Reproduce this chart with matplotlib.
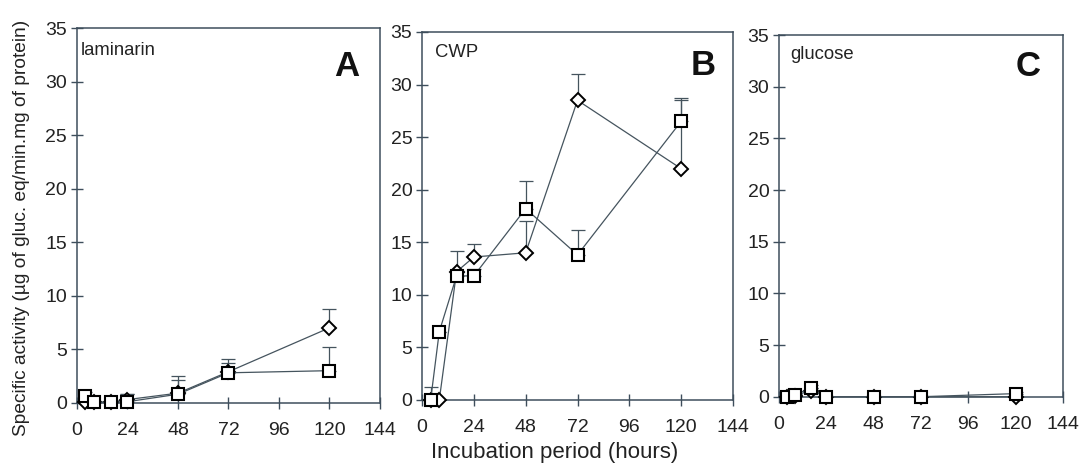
import matplotlib.pyplot as plt
import numpy as np

plt.rcParams['font.family'] = ['Liberation Sans', 'DejaVu Sans']

# incubation times (hours)
hours = [4, 8, 16, 24, 48, 72, 120]

# panel A - laminarin
lam_sq = [0.6, 0.05, 0.05, 0.1, 0.8, 2.8, 3.0]
lam_sq_err = [0.4, 0.0, 0.0, 0.7, 1.3, 0.9, 2.2]
lam_di = [0.1, 0.05, 0.05, 0.3, 0.9, 2.9, 7.0]
lam_di_err = [0.0, 0.0, 0.0, 0.5, 1.6, 1.2, 1.8]

# panel B - CWP
cwp_sq = [0.0, 6.5, 11.8, 11.8, 18.2, 13.8, 26.5]
cwp_sq_err = [1.2, 0.0, 0.4, 0.7, 2.6, 2.4, 2.0]
cwp_di = [0.0, 0.0, 12.2, 13.6, 14.0, 28.5, 22.0]
cwp_di_err = [0.0, 0.0, 2.0, 1.2, 3.0, 2.5, 6.7]

# panel C - glucose
glu_sq = [0.0, 0.2, 0.8, 0.0, 0.0, 0.0, 0.3]
glu_sq_err = [0.0, 0.1, 0.3, 0.0, 0.0, 0.0, 0.2]
glu_di = [0.0, 0.1, 0.6, 0.0, 0.0, 0.0, 0.0]
glu_di_err = [0.0, 0.0, 0.2, 0.0, 0.0, 0.0, 0.1]

panels = [
    ("laminarin", "A", lam_sq, lam_sq_err, lam_di, lam_di_err),
    ("CWP", "B", cwp_sq, cwp_sq_err, cwp_di, cwp_di_err),
    ("glucose", "C", glu_sq, glu_sq_err, glu_di, glu_di_err),
]

# axes boxes in figure fractions (left, bottom, width, height)
boxes = [
    [0.0710, 0.1375, 0.2795, 0.8025],
    [0.3893, 0.1435, 0.2869, 0.7880],
    [0.7187, 0.1505, 0.2620, 0.7745],
]
letter_pos = [(0.891, 0.898), (0.903, 0.910), (0.877, 0.914)]
name_pos = [(0.013, 0.941), (0.042, 0.943), (0.039, 0.947)]

spine_col = "#3e4e5c"
line_col = "#45545e"

fig = plt.figure(figsize=(10.84, 4.67), dpi=100)

for i, (name, letter, sq, sq_err, di, di_err) in enumerate(panels):
    ax = fig.add_axes(boxes[i])
    ax.errorbar(hours, di, yerr=[np.zeros(len(di)), di_err], fmt="none",
                ecolor=line_col, elinewidth=0.9, capsize=5, capthick=0.9)
    ax.errorbar(hours, sq, yerr=[np.zeros(len(sq)), sq_err], fmt="none",
                ecolor=line_col, elinewidth=0.9, capsize=5, capthick=0.9)
    ax.plot(hours, di, color=line_col, lw=0.9, marker="D", ms=7.5,
            mfc="white", mec="black", mew=1.4, clip_on=False, zorder=3)
    ax.plot(hours, sq, color=line_col, lw=0.9, marker="s", ms=9,
            mfc="white", mec="black", mew=1.5, clip_on=False, zorder=4)

    ax.set_xlim(0, 144)
    ax.set_ylim(0, 35)
    ax.set_xticks(np.arange(0, 145, 24))
    ax.set_yticks(np.arange(0, 36, 5))
    for s in ax.spines.values():
        s.set_color(spine_col)
        s.set_linewidth(1.1)
    ax.tick_params(axis="both", direction="inout", length=8, width=1,
                   color=spine_col, labelsize=14, labelcolor="#222222")
    ax.tick_params(axis="x", pad=10)
    ax.tick_params(axis="y", pad=3)

    ax.text(name_pos[i][0], name_pos[i][1], name, transform=ax.transAxes,
            fontsize=13.3, color="#222222", ha="left", va="center")
    ax.text(letter_pos[i][0], letter_pos[i][1], letter, transform=ax.transAxes,
            fontsize=25, fontweight="bold", color="#111111",
            ha="center", va="center")

fig.text(0.020, 0.512, "Specific activity (µg of gluc. eq/min.mg of protein)",
         rotation=90, ha="center", va="center", fontsize=13.8, color="#222222")
fig.text(0.512, 0.032, "Incubation period (hours)", ha="center", va="center",
         fontsize=16, color="#222222")

plt.savefig("out.png", dpi=100)
